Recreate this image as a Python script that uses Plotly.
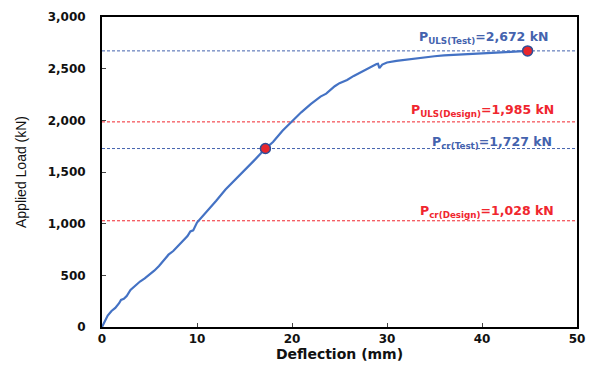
import plotly.graph_objects as go

# Load-deflection curve (mm, kN)
deflection = [0, 0.3, 0.6, 1.0, 1.4, 1.8, 2.0, 2.3, 2.6, 3.0, 3.5, 4.0, 4.5, 5.0, 5.5, 6.0,
              6.5, 7.0, 7.5, 8.0, 8.5, 9.0, 9.3, 9.6, 10.0, 11.0, 12.0, 13.0, 13.5, 14.0,
              15.0, 16.0, 17.2, 18.0, 19.0, 20.0, 20.5, 21.0, 22.0, 23.0, 23.6, 24.5, 25.0,
              25.8, 26.5, 27.5, 28.2, 28.9, 29.05, 29.2, 29.5, 30.0, 31.0, 32.0, 33.1, 34.0,
              35.0, 36.0, 37.0, 38.0, 39.0, 40.0, 41.0, 42.0, 43.0, 44.0, 44.8]
load = [0, 60, 110, 155, 185, 230, 262, 272, 300, 358, 400, 440, 470, 505, 545, 590,
        650, 700, 735, 780, 830, 880, 925, 935, 1010, 1110, 1220, 1330, 1375, 1420,
        1520, 1610, 1727, 1790, 1900, 1993, 2040, 2080, 2160, 2230, 2258, 2330, 2360,
        2390, 2430, 2480, 2515, 2545, 2548, 2505, 2540, 2560, 2575, 2588, 2598, 2610,
        2620, 2628, 2634, 2640, 2645, 2650, 2654, 2658, 2662, 2666, 2672]

# Reference loads
ref_names = ["P<sub>ULS(Test)</sub>=2,672 kN", "P<sub>ULS(Design)</sub>=1,985 kN",
             "P<sub>cr(Test)</sub>=1,727 kN", "P<sub>cr(Design)</sub>=1,028 kN"]
ref_values = [2672, 1985, 1727, 1028]
ref_colors = ["#4463AE", "#F0262E", "#4463AE", "#F0262E"]
label_y = [2805, 2095, 1787, 1118]
label_x = [47.2, 47.8, 47.6, 47.8]

# Key points
key_x = [17.2, 44.8]
key_y = [1727, 2672]

x_ticks = [0, 10, 20, 30, 40, 50]
y_ticks = [0, 500, 1000, 1500, 2000, 2500, 3000]
y_tick_text = ["0", "500", "1,000", "1,500", "2,000", "2,500", "3,000"]

fig = go.Figure()

for v, c in zip(ref_values, ref_colors):
    fig.add_trace(go.Scatter(x=[0, 50], y=[v, v], mode="lines",
                             line=dict(color=c, width=1, dash="3px,2px"),
                             showlegend=False, hoverinfo="skip"))

fig.add_trace(go.Scatter(x=deflection, y=load, mode="lines",
                         line=dict(color="#4472C4", width=2.2), showlegend=False))

fig.add_trace(go.Scatter(x=key_x, y=key_y, mode="markers",
                         marker=dict(color="#E8262C", size=10, symbol="circle",
                                     line=dict(color="#2F4E96", width=1.5)),
                         showlegend=False))

FONT = "DejaVu Sans"
for name, ly, lx, c in zip(ref_names, label_y, label_x, ref_colors):
    fig.add_annotation(x=lx, y=ly, text="<b>" + name.replace("<sub>", "<sub><b>").replace("</sub>", "</b></sub>") + "</b>",
                       showarrow=False, xanchor="right",
                       yanchor="middle", font=dict(family=FONT, size=12.5, color=c))

fig.update_layout(
    width=592, height=369,
    margin=dict(l=102, r=15, t=17, b=42),
    paper_bgcolor="white", plot_bgcolor="white",
    font=dict(family=FONT, color="#111111"),
)
fig.update_xaxes(range=[0, 50], tickvals=x_ticks, ticks="inside", ticklen=4,
                 showline=True, linecolor="black", linewidth=2, mirror=True,
                 showgrid=False, zeroline=False, automargin=False,
                 tickfont=dict(family=FONT, size=12, color="#111111", weight="bold"),
                 title=dict(text="Deflection (mm)",
                            font=dict(family=FONT, size=14, weight="bold"),
                            standoff=4))
fig.update_yaxes(range=[0, 3000], tickvals=y_ticks, ticktext=y_tick_text, ticks="inside",
                 ticklen=4, showline=True, linecolor="black", linewidth=2, mirror=True,
                 showgrid=False, zeroline=False, automargin=False,
                 ticklabelstandoff=12,
                 tickfont=dict(family=FONT, size=12, color="#111111", weight="bold"),
                 title=dict(text="Applied Load (kN)",
                            font=dict(family="Liberation Sans", size=14, color="#111111"),
                            standoff=18))

fig.write_html("out.html", config={"displayModeBar": False},
               post_script="document.body.style.margin='0';")
